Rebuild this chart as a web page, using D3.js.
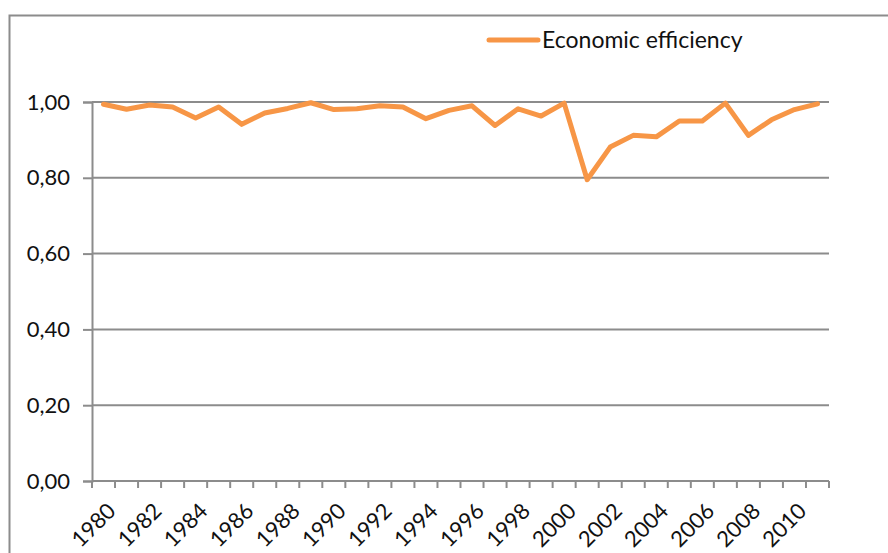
<!DOCTYPE html>
<html>
<head>
<meta charset="utf-8">
<script src="https://cdn.jsdelivr.net/npm/d3@7"></script>
<style>
  body { margin: 0; background: #fff; }
  svg text { font-family: Lato, "Open Sans", sans-serif; fill: #111; }
</style>
</head>
<body>
<svg id="chart" width="888" height="553"></svg>
<script>
// data
var years = d3.range(1980, 2012);
var efficiency = [
    0.994, 0.981, 0.992, 0.987, 0.958, 0.987, 0.941, 0.971, 0.983, 0.998,
    0.980, 0.982, 0.990, 0.987, 0.956, 0.978, 0.990, 0.938, 0.982, 0.963,
    0.997, 0.795, 0.881, 0.912, 0.908, 0.950, 0.950, 0.997, 0.912, 0.953,
    0.980, 0.995
];
var yTicks = [0, 0.2, 0.4, 0.6, 0.8, 1.0];
var seriesName = "Economic efficiency";

var svg = d3.select("#chart");
var margin = { top: 102, right: 59, bottom: 72, left: 92 },
    width = 888 - margin.left - margin.right,
    height = 553 - margin.top - margin.bottom;

// outer chart border (only left and top are in view)
svg.append("path")
    .attr("d", "M9.5,553 L9.5,15.5 L888,15.5")
    .attr("fill", "none")
    .attr("stroke", "#8c8c8c")
    .attr("stroke-width", 2);

var g = svg.append("g")
    .attr("transform", "translate(" + margin.left + "," + margin.top + ")");

var x = d3.scaleBand()
    .domain(years)
    .range([0, width]);

var y = d3.scaleLinear()
    .domain([0, 1])
    .range([height, 0]);

var fmt = function (d) { return d3.format(".2f")(d).replace(".", ","); };

// gridlines
g.append("g")
    .selectAll("line")
    .data(yTicks.slice(1))
    .enter()
    .append("line")
    .attr("x1", 0)
    .attr("x2", width)
    .attr("y1", function (d) { return y(d); })
    .attr("y2", function (d) { return y(d); })
    .attr("stroke", "#8c8c8c")
    .attr("stroke-width", 2);

// Y axis
var yAxis = g.append("g")
    .call(d3.axisLeft(y).tickValues(yTicks).tickFormat(fmt).tickSize(9).tickPadding(13));
yAxis.select(".domain").attr("stroke", "#8c8c8c").attr("stroke-width", 2);
yAxis.selectAll(".tick line").attr("stroke", "#8c8c8c").attr("stroke-width", 2);
yAxis.selectAll("text").attr("font-size", "22px").attr("fill", "#111");

// X axis: ticks sit between categories
var xAxis = g.append("g")
    .attr("transform", "translate(0," + height + ")");
xAxis.append("line")
    .attr("x1", 0).attr("x2", width)
    .attr("stroke", "#8c8c8c").attr("stroke-width", 2);
xAxis.selectAll(".bt")
    .data(years.concat([2012]))
    .enter()
    .append("line")
    .attr("class", "bt")
    .attr("x1", function (d, i) { return i * x.step(); })
    .attr("x2", function (d, i) { return i * x.step(); })
    .attr("y1", 0).attr("y2", 7)
    .attr("stroke", "#8c8c8c").attr("stroke-width", 2);
xAxis.selectAll(".lbl")
    .data(years.filter(function (d) { return d % 2 === 0; }))
    .enter()
    .append("text")
    .attr("class", "lbl")
    .attr("text-anchor", "end")
    .attr("font-size", "22px")
    .attr("transform", function (d) {
        return "translate(" + (x(d) + x.bandwidth() / 2 + 8) + ",26) rotate(-45)";
    })
    .attr("dy", "0.35em")
    .text(function (d) { return d; });

// the line
var line = d3.line()
    .x(function (d, i) { return x(years[i]) + x.bandwidth() / 2; })
    .y(function (d) { return y(d); });

g.append("path")
    .datum(efficiency)
    .attr("d", line)
    .attr("fill", "none")
    .attr("stroke", "#f79646")
    .attr("stroke-width", 5)
    .attr("stroke-linejoin", "round")
    .attr("stroke-linecap", "round");

// legend
var legend = svg.append("g").attr("transform", "translate(489,40)");
legend.append("line")
    .attr("x1", 0).attr("x2", 49)
    .attr("stroke", "#f79646")
    .attr("stroke-width", 5)
    .attr("stroke-linecap", "round");
legend.append("text")
    .attr("x", 53)
    .attr("dy", "0.35em")
    .attr("font-size", "23px")
    .text(seriesName);
</script>
</body>
</html>
